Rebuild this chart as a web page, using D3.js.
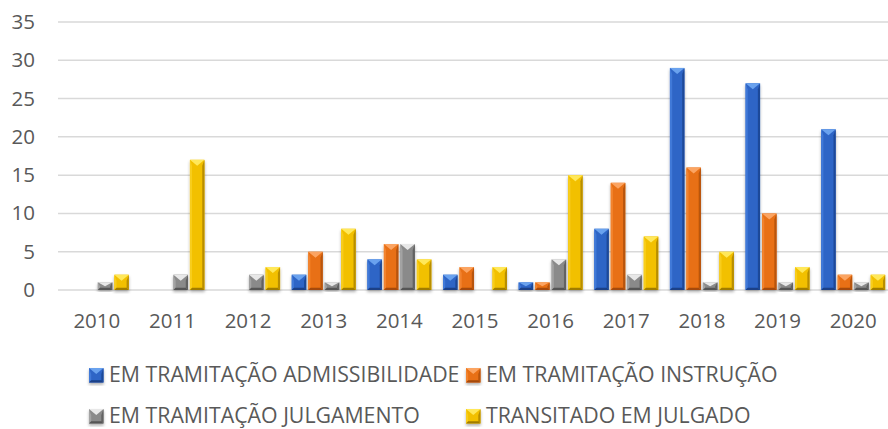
<!DOCTYPE html>
<meta charset="utf-8">
<head>
  <title>Processos por ano</title>
  <style>
    body { margin: 0; background: #fff; }
    text { font-family: "Open Sans", "Noto Sans", sans-serif; fill: #595959; }
  </style>
</head>
<div id="chart"></div>
<script src="https://d3js.org/d3.v7.min.js"></script>
<script>
// data
var years = ["2010","2011","2012","2013","2014","2015","2016","2017","2018","2019","2020"];
var seriesNames = ["EM TRAMITAÇÃO ADMISSIBILIDADE", "EM TRAMITAÇÃO INSTRUÇÃO",
                   "EM TRAMITAÇÃO JULGAMENTO", "TRANSITADO EM JULGADO"];
var admissibilidade = [0, 0, 0, 2, 4, 2, 1, 8, 29, 27, 21];
var instrucao       = [0, 0, 0, 5, 6, 3, 1, 14, 16, 10, 2];
var julgamento      = [1, 2, 2, 1, 6, 0, 4, 2, 1, 1, 1];
var transitado      = [2, 17, 3, 8, 4, 3, 15, 7, 5, 3, 2];
var yTicks = [0, 5, 10, 15, 20, 25, 30, 35];

var allSeries = [admissibilidade, instrucao, julgamento, transitado];
// main, top bevel, left bevel, right bevel, bottom bevel
var palette = [
  {main: "#2e65c6", top: "#6aa2ee", left: "#4079d8", right: "#1f4a99", bottom: "#1a3f86"},
  {main: "#e86f14", top: "#fba462", left: "#f2832e", right: "#b8540c", bottom: "#a44a08"},
  {main: "#8a8a8a", top: "#e8e8e8", left: "#a3a3a3", right: "#626262", bottom: "#555555"},
  {main: "#f2c000", top: "#ffe85a", left: "#f8cd1a", right: "#b88e00", bottom: "#a07c00"}
];

var W = 888, H = 429;
var plot = {left: 59, right: 891, top: 22, bottom: 290};

var svg = d3.select("#chart").append("svg")
    .attr("width", W)
    .attr("height", H);

var defs = svg.append("defs");
defs.append("filter")
    .attr("id", "shadow")
    .attr("x", "-30%").attr("y", "-10%").attr("width", "160%").attr("height", "130%")
  .append("feDropShadow")
    .attr("dx", 0).attr("dy", 2)
    .attr("stdDeviation", 1.5)
    .attr("flood-color", "#000")
    .attr("flood-opacity", 0.3);

var y = d3.scaleLinear()
    .domain([0, 35])
    .range([plot.bottom, plot.top]);

var x0 = d3.scaleBand()
    .domain(years)
    .range([plot.left, plot.right])
    .padding(0);

var groupW = 64;
var off = (x0.bandwidth() - groupW) / 2;
var x1 = d3.scaleBand()
    .domain(d3.range(4))
    .range([off, off + groupW])
    .paddingInner(0.12);

// gridlines
svg.append("g")
  .selectAll("line")
  .data(yTicks)
  .join("line")
    .attr("x1", plot.left - 1)
    .attr("x2", W)
    .attr("y1", function(d) { return y(d); })
    .attr("y2", function(d) { return y(d); })
    .attr("stroke", "#d9d9d9")
    .attr("stroke-width", 1.5);

// y axis labels
var yAxis = svg.append("g")
    .attr("transform", "translate(" + (plot.left - 1) + ",0)")
    .call(d3.axisLeft(y).tickValues(yTicks).tickSize(0).tickPadding(23));
yAxis.select(".domain").remove();
yAxis.selectAll("text")
    .style("font-size", "20.5px")
    .attr("fill", "#595959");

// x axis labels
var xAxis = svg.append("g")
    .attr("transform", "translate(0," + plot.bottom + ")")
    .call(d3.axisBottom(x0).tickSize(0).tickPadding(23));
xAxis.select(".domain").remove();
xAxis.selectAll("text")
    .style("font-size", "20.5px")
    .attr("fill", "#595959");

// bevelled bar
function drawBar(g, bx, by, bw, bh, c) {
  var b = g.append("g").attr("filter", "url(#shadow)");
  var d = Math.min(6, bw / 2, bh / 2);
  var x2 = bx + bw, y2 = by + bh;
  b.append("rect")
    .attr("x", bx).attr("y", by).attr("width", bw).attr("height", bh)
    .attr("fill", c.main);
  function poly(pts, fill) {
    b.append("polygon")
      .attr("points", pts.map(function(p) { return p.join(","); }).join(" "))
      .attr("fill", fill);
  }
  var ib = 2.2; // side bevel width
  poly([[bx, by], [bx + ib, by + d], [bx + ib, y2 - ib], [bx, y2]], c.left);
  poly([[x2, by], [x2 - ib, by + d], [x2 - ib, y2 - ib], [x2, y2]], c.right);
  poly([[bx, y2], [bx + ib, y2 - ib], [x2 - ib, y2 - ib], [x2, y2]], c.bottom);
  poly([[bx, by], [x2, by], [bx + bw / 2, by + d]], c.top);
}

var bars = svg.append("g");
years.forEach(function(yr, i) {
  allSeries.forEach(function(vals, s) {
    var v = vals[i];
    if (v <= 0) return;
    var bx = x0(yr) + x1(s);
    var by = y(v);
    drawBar(bars, bx, by, x1.bandwidth(), y(0) - by, palette[s]);
  });
});

// legend
var legendPos = [[89, 368], [466, 368], [89, 409], [466, 409]];
var legend = svg.append("g");
seriesNames.forEach(function(name, s) {
  var p = legendPos[s];
  drawBar(legend, p[0], p[1], 14.5, 14.5, palette[s]);
  legend.append("text")
    .attr("x", p[0] + 20)
    .attr("y", p[1] + 14)
    .style("font-size", "21.3px")
    .text(name);
});
</script>
